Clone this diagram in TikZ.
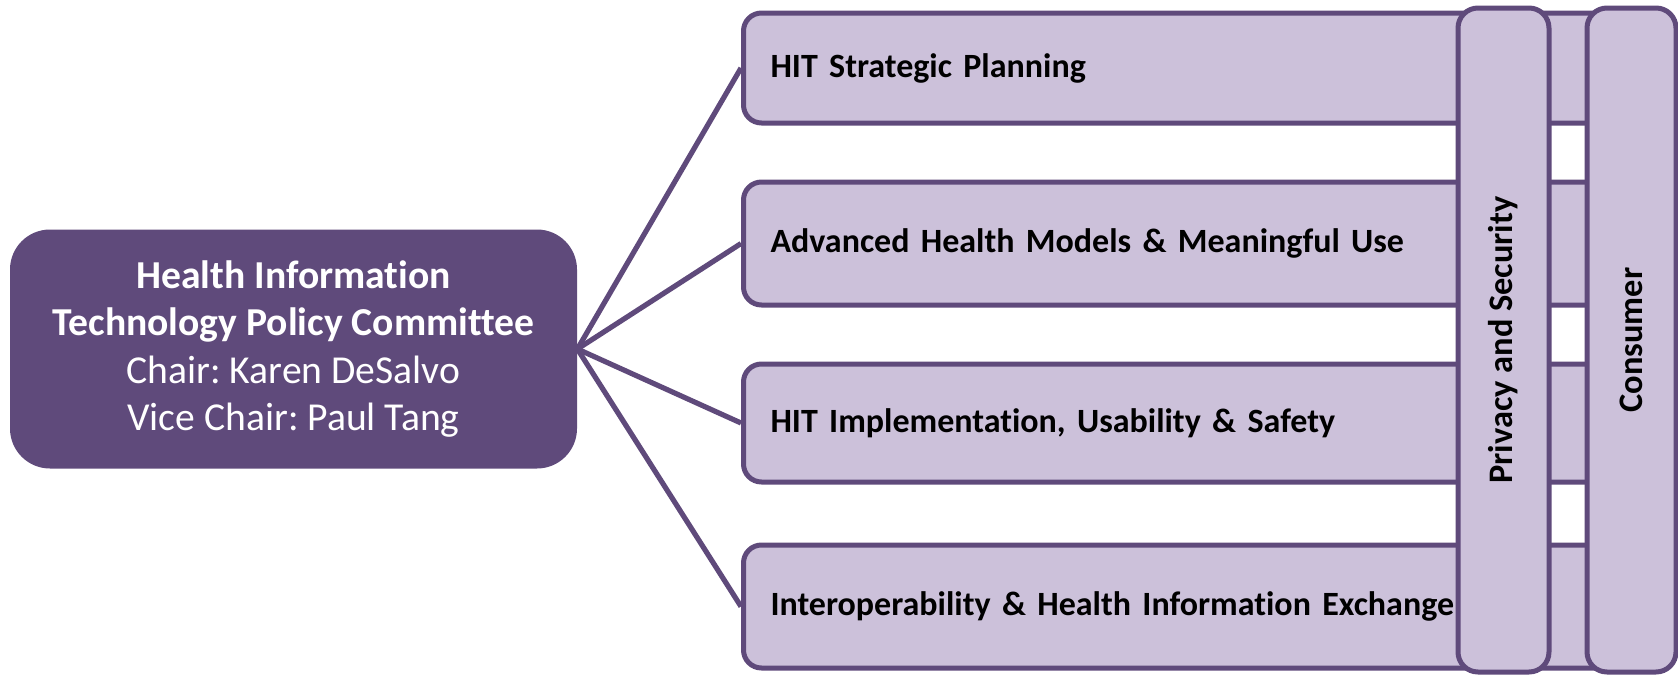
\documentclass[tikz,border=0pt]{standalone}
\usepackage{fontspec}
\setmainfont{Carlito}[Ligatures={NoCommon}]
\usepackage{tikz}
\usetikzlibrary{positioning}
\definecolor{hitdark}{HTML}{5F4A7B}
\definecolor{hitlight}{HTML}{CCC1DA}
\frenchspacing

\begin{document}
\begin{tikzpicture}[x=0.5pt, y=-0.5pt,
    subbox/.style={draw=hitdark, fill=hitlight, line width=2.5pt, rounded corners=9pt,
      anchor=west, inner xsep=13.5pt, text width=427pt, align=left,
      font=\bfseries\fontsize{17}{20}\selectfont},
    colbox/.style={draw=hitdark, fill=hitlight, line width=2.5pt, rounded corners=10pt,
      rotate=90, minimum width=332pt, font=\bfseries\fontsize{17.2}{20}\selectfont},
    link/.style={draw=hitdark, line width=2.6pt}]
  \useasboundingbox (0,0) rectangle (1678,675);
  % committee
  \node[fill=hitdark, text=white, rounded corners=20pt, minimum width=283.5pt,
    minimum height=119.5pt, align=center, font=\fontsize{19.8}{23.6}\selectfont]
    (hitpc) at (293.5,349) {\textbf{Health Information}\\
      \textbf{Technology Policy Committee}\\
      Chair: Karen DeSalvo\\
      Vice Chair: Paul Tang};
  % workgroups
  \node[subbox, minimum height=55pt] (plan) at (741,68) {HIT Strategic Planning};
  \node[subbox, minimum height=61.5pt] (models) at (741,243.5) {Advanced Health Models \& Meaningful Use};
  \node[subbox, minimum height=59pt] (safety) at (741,423) {HIT Implementation, Usability \& Safety};
  \node[subbox, minimum height=61.5pt] (hie) at (741,606.5)
    {\raisebox{-3.5pt}{Interoperability \& Health Information Exchange}};
  \draw[link] (hitpc.east) -- (plan.west);
  \draw[link] (hitpc.east) -- (models.west);
  \draw[link] (hitpc.east) -- (safety.west);
  \draw[link] (hitpc.east) -- (hie.west);
  % cross-cutting
  \node[colbox, minimum height=45.5pt] (privacy) at (1503.5,340) {Privacy and Security};
  \node[colbox, minimum height=44.5pt] (consumer) at (1631.5,340) {Consumer};
\end{tikzpicture}
\end{document}
